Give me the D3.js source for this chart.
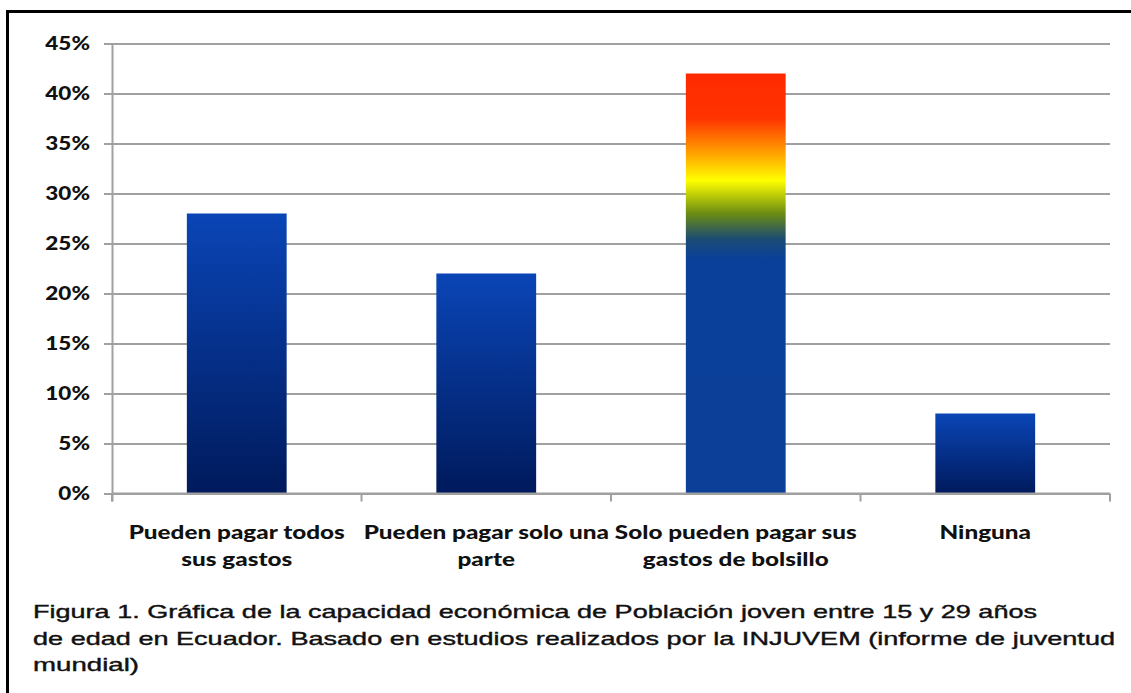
<!DOCTYPE html>
<html>
<head>
<meta charset="utf-8">
<script src="https://cdn.jsdelivr.net/npm/d3@7"></script>
<style>
  body { margin: 0; background: #fff; }
  svg { display: block; }
</style>
</head>
<body>
<div id="chart-container"></div>
<script>
// data
const categories = [
  ["Pueden pagar todos", "sus gastos"],
  ["Pueden pagar solo una", "parte"],
  ["Solo pueden pagar sus", "gastos de bolsillo"],
  ["Ninguna"]
];
const values = [28, 22, 42, 8];
const yTicks = [0, 5, 10, 15, 20, 25, 30, 35, 40, 45];
const captionLines = [
  "Figura 1. Gráfica de la capacidad económica de Población joven entre 15 y 29 años",
  "de edad en Ecuador. Basado en estudios realizados por la INJUVEM (informe de juventud",
  "mundial)"
];
// widths the caption lines take in the picture
const captionWidths = [1004, 1082, 106];
// rainbow stops of the third bar, in value units
const rainbowStops = [
  [0, "#0b3f98"], [23.5, "#0b409a"], [25.5, "#1d4c72"], [28, "#6b8c12"],
  [31.3, "#ffff00"], [34, "#ffa200"], [37.5, "#ff3300"], [42, "#ff2a00"]
];

const width = 1131, height = 693;
const marginLeft = 112, marginRight = 21, marginTop = 43.5, marginBottom = 199.5;
const graphWidth = width - marginLeft - marginRight;
const graphHeight = height - marginTop - marginBottom;
const stretch = 1.35; // the source picture is wider than tall

const svgRoot = d3.select("#chart-container")
  .append("svg")
  .attr("width", width)
  .attr("height", height);

const defs = svgRoot.append("defs");

// blue gradient for the plain bars
const blue = defs.append("linearGradient")
  .attr("id", "blueGrad")
  .attr("x1", 0).attr("y1", 0).attr("x2", 0).attr("y2", 1);
blue.append("stop").attr("offset", "0%").attr("stop-color", "#0a45b6");
blue.append("stop").attr("offset", "100%").attr("stop-color", "#001a5c");

var svg = svgRoot.append("g")
  .attr("transform", "translate(" + marginLeft + "," + marginTop + ")");

// scales
var x = d3.scaleBand()
  .domain(d3.range(values.length))
  .range([0, graphWidth])
  .paddingInner(0.6)
  .paddingOuter(0.3);

var y = d3.scaleLinear()
  .domain([0, 45])
  .range([graphHeight, 0]);

// rainbow gradient in user space of the plot
const rainbow = defs.append("linearGradient")
  .attr("id", "rainbowGrad")
  .attr("gradientUnits", "userSpaceOnUse")
  .attr("x1", 0).attr("x2", 0)
  .attr("y1", y(0)).attr("y2", y(42));
rainbow.selectAll("stop")
  .data(rainbowStops)
  .enter()
  .append("stop")
  .attr("offset", (d) => d[0] / 42)
  .attr("stop-color", (d) => d[1]);

// gridlines
svg.append("g")
  .call(d3.axisLeft(y).tickValues(yTicks).tickSize(-graphWidth).tickFormat(""))
  .call((g) => g.select(".domain").remove())
  .selectAll("line")
  .attr("stroke", "#a0a0a0")
  .attr("stroke-width", 2);

// y axis
svg.append("g")
  .call(d3.axisLeft(y).tickValues(yTicks).tickSize(8).tickPadding(14).tickFormat((d) => d + "%"))
  .call((g) => g.select(".domain").attr("stroke", "#a0a0a0").attr("stroke-width", 2).attr("d", "M0.5," + (graphHeight + 8) + "V0"))
  .call((g) => g.selectAll("line").attr("stroke", "#a0a0a0").attr("stroke-width", 2))
  .selectAll("text")
  .attr("x", 0)
  .attr("transform", "translate(-22,0) scale(" + 1.25 + ",1)")
  .style("font-family", "Lato, sans-serif")
  .style("font-weight", "900")
  .style("font-size", "18px")
  .attr("fill", "#111");

// bars
svg.selectAll("rect.bar")
  .data(values)
  .enter()
  .append("rect")
  .attr("class", "bar")
  .attr("x", (d, i) => x(i))
  .attr("y", (d) => y(d))
  .attr("width", x.bandwidth())
  .attr("height", (d) => y(0) - y(d))
  .attr("fill", (d, i) => i === 2 ? "url(#rainbowGrad)" : "url(#blueGrad)");

// x axis with ticks at category boundaries
const bounds = d3.range(values.length + 1).map((i) => i * x.step());
const xAxis = svg.append("g").attr("transform", "translate(0," + graphHeight + ")");
xAxis.append("line")
  .attr("x1", 0).attr("x2", graphWidth)
  .attr("stroke", "#a0a0a0").attr("stroke-width", 2);
xAxis.selectAll("line.tick")
  .data(bounds)
  .enter()
  .append("line")
  .attr("class", "tick")
  .attr("x1", (d) => d).attr("x2", (d) => d)
  .attr("y1", 0).attr("y2", 8)
  .attr("stroke", "#a0a0a0").attr("stroke-width", 2);

// category labels
const labels = xAxis.selectAll("text.cat")
  .data(categories)
  .enter()
  .append("text")
  .attr("class", "cat")
  .attr("text-anchor", "middle")
  .attr("transform", (d, i) => "translate(" + (x(i) + x.bandwidth() / 2) + ",0) scale(" + stretch + ",1)")
  .style("font-family", "Lato, sans-serif")
  .style("font-weight", "900")
  .style("font-size", "18px")
  .attr("fill", "#111");
labels.selectAll("tspan")
  .data((d) => d)
  .enter()
  .append("tspan")
  .attr("x", 0)
  .attr("y", (d, j) => 46 + j * 27)
  .text((d) => d);

// caption
svgRoot.append("g")
  .selectAll("text")
  .data(captionLines)
  .enter()
  .append("text")
  .attr("x", 33)
  .attr("y", (d, i) => 618 + i * 26.5)
  .attr("textLength", (d, i) => captionWidths[i])
  .attr("lengthAdjust", "spacingAndGlyphs")
  .style("font-family", "'Liberation Sans', Arial, sans-serif")
  .style("font-size", "19px")
  .attr("fill", "#111")
  .attr("stroke", "#111")
  .attr("stroke-width", 0.4)
  .text((d) => d);

// frame
svgRoot.append("path")
  .attr("d", "M7.5," + height + "V11.5H" + width)
  .attr("fill", "none")
  .attr("stroke", "#000")
  .attr("stroke-width", 3);
</script>
</body>
</html>
